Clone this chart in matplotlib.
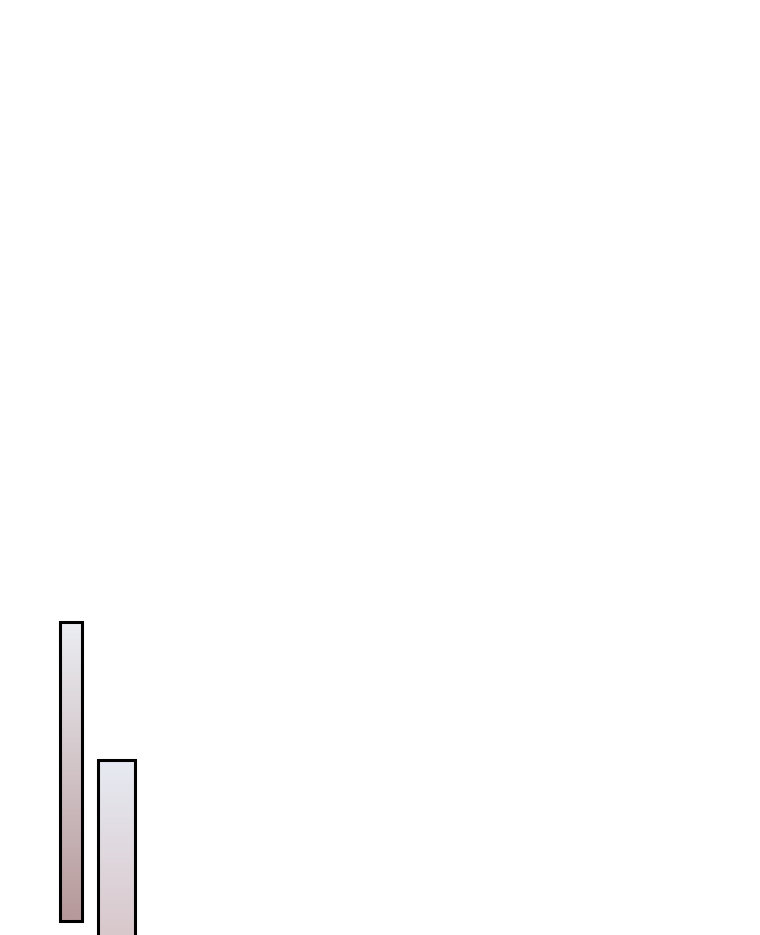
import numpy as np
import matplotlib
matplotlib.use('Agg')
import matplotlib.pyplot as plt
from matplotlib.colors import LinearSegmentedColormap

# Valores de las barras (unidades del eje, sin etiquetas visibles)
categorias = ['A', 'B']
alturas = [299, 180]
bases = [14.5, -5]
colores_arriba = ['#eceef3', '#e7eaf2']
colores_abajo = ['#b6999a', '#d8c7cb']

fig = plt.figure(figsize=(7.6, 9.35), dpi=100)
ax = fig.add_axes([0, 0, 1, 1])
ax.set_xlim(0, 760)
ax.set_ylim(0, 935)
ax.axis('off')

posiciones = [70.5, 116]
anchos = [22, 37]
barras = ax.bar(posiciones, alturas, width=anchos, bottom=bases,
                facecolor='none', edgecolor='black', linewidth=2.2, zorder=3)

# Relleno en degradado para cada barra
grad = np.linspace(0, 1, 256).reshape(-1, 1)
for barra, c_arr, c_ab in zip(barras, colores_arriba, colores_abajo):
    x0, y0 = barra.get_x(), barra.get_y()
    x1, y1 = x0 + barra.get_width(), y0 + barra.get_height()
    cmap = LinearSegmentedColormap.from_list('g', [c_arr, c_ab])
    im = ax.imshow(grad, extent=[x0, x1, y0, y1], origin='upper',
                   cmap=cmap, aspect='auto', zorder=2)
    im.set_clip_path(barra)

ax.set_xlim(0, 760)
ax.set_ylim(0, 935)
fig.savefig('out.png', dpi=100, facecolor='white')
